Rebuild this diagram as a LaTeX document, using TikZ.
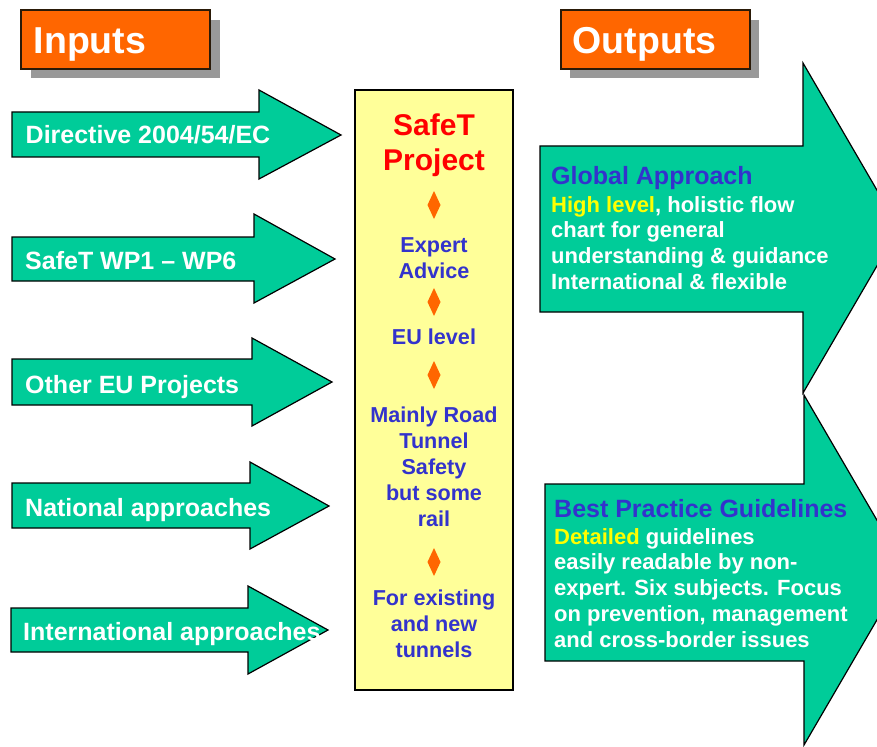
\documentclass[tikz,border=0pt]{standalone}
\usepackage{fontspec}
\setmainfont{Liberation Sans}
\definecolor{arrowgreen}{HTML}{00CC99}
\definecolor{hdrorange}{HTML}{FF6600}
\definecolor{boxyellow}{HTML}{FFFF99}
\definecolor{txtblue}{HTML}{3333CC}
\definecolor{shadowgray}{HTML}{999999}
\definecolor{hiyellow}{HTML}{FFFF00}
\definecolor{hdrline}{HTML}{2A1A08}
\begin{document}
\begin{tikzpicture}[x=1pt,y=-1pt,
  greenarrow/.style={fill=arrowgreen,draw=black,line width=1.2pt,line join=miter},
  hdrbox/.style={fill=hdrorange,draw=hdrline,line width=1.5pt},
  shadowbox/.style={fill=shadowgray},
  hdrtext/.style={inner sep=0pt,anchor=base west,text=white,font=\fontsize{37.5}{42}\selectfont\bfseries},
  inlabel/.style={inner sep=0pt,anchor=base west,text=white,font=\fontsize{25}{30}\selectfont\bfseries},
  titletext/.style={inner sep=0pt,anchor=base,text=red,font=\fontsize{30}{35}\selectfont\bfseries},
  midtext/.style={inner sep=0pt,anchor=north,align=center,text=txtblue,font=\fontsize{21.6}{26}\selectfont\bfseries},
  outhead/.style={inner sep=0pt,anchor=base west,text=txtblue,font=\fontsize{25}{30}\selectfont\bfseries},
  outbody/.style={inner sep=0pt,anchor=north west,align=left,text=white,font=\fontsize{22}{25.8}\selectfont\bfseries},
  diam/.style={fill=hdrorange}
]
\useasboundingbox (0,0) rectangle (877,746);
\clip (0,0) rectangle (877,746);

% headers
\fill[shadowbox] (31,20) rectangle (220,78);
\draw[hdrbox] (21,10) rectangle (210,69);
\node[hdrtext] (inputs) at (33.5,53.5) {Inputs};
\fill[shadowbox] (570,20) rectangle (759,78);
\draw[hdrbox] (561,10) rectangle (750,69);
\node[hdrtext] (outputs) at (572.5,53.5) {Outputs};

% input arrows
\draw[greenarrow] (12,112) -- (259,112) -- (259,90) -- (341,135) -- (259,179) -- (259,157) -- (12,157) -- cycle;
\draw[greenarrow] (12,237) -- (254,237) -- (254,214) -- (335,259) -- (254,303) -- (254,281) -- (12,281) -- cycle;
\draw[greenarrow] (12,359) -- (252,359) -- (252,338) -- (332,382) -- (252,426) -- (252,405) -- (12,405) -- cycle;
\draw[greenarrow] (12,483) -- (250,483) -- (250,462) -- (329,506) -- (250,549) -- (250,528) -- (12,528) -- cycle;
\draw[greenarrow] (11,608) -- (248,608) -- (248,586) -- (328,630) -- (248,674) -- (248,652) -- (11,652) -- cycle;

\node[inlabel] (in1) at (25.5,144) {Directive 2004/54/EC};
\node[inlabel] (in2) at (25,269) {SafeT WP1 – WP6};
\node[inlabel] (in3) at (25,393) {Other EU Projects};
\node[inlabel] (in4) at (25,516) {National approaches};
\node[inlabel] (in5) at (23,640) {International approaches};

% central box
\draw[fill=boxyellow,draw=black,line width=1.5pt] (355,90) rectangle (513,690);
\node[titletext] (safet) at (434,136) {SafeT};
\node[titletext] (project) at (434,171) {Project};
\fill[diam] (434,191) -- ++(6.5,14) -- ++(-6.5,14) -- ++(-6.5,-14) -- cycle;
\node[midtext] (expert) at (434,237) {Expert\\Advice};
\fill[diam] (434,288) -- ++(6.5,14) -- ++(-6.5,14) -- ++(-6.5,-14) -- cycle;
\node[midtext] (eulevel) at (434,329) {EU level};
\fill[diam] (434,361) -- ++(6.5,14) -- ++(-6.5,14) -- ++(-6.5,-14) -- cycle;
\node[midtext] (mainly) at (434,407) {Mainly Road\\Tunnel\\Safety\\but some\\rail};
\fill[diam] (434,548) -- ++(6.5,14) -- ++(-6.5,14) -- ++(-6.5,-14) -- cycle;
\node[midtext] (existing) at (434,590) {For existing\\and new\\tunnels};

% output arrows
\draw[greenarrow] (540,146) -- (803,146) -- (803,63) -- (899,228) -- (803,393) -- (803,312) -- (540,312) -- cycle;
\draw[greenarrow] (545,484) -- (804,484) -- (804,395) -- (906,570) -- (804,745) -- (804,661) -- (545,661) -- cycle;

\node[outhead] (global) at (551,185) {Global Approach};
\node[outbody] (globalbody) at (551,196) {\textcolor{hiyellow}{High level}, holistic flow\\chart for general\\understanding \& guidance\\International \& flexible};
\node[outhead] (best) at (554,517) {Best Practice Guidelines};
\node[outbody] (bestbody) at (554,528) {\textcolor{hiyellow}{Detailed} guidelines\\easily readable by non-\\expert. Six subjects. Focus\\on prevention, management\\and cross-border issues};
\end{tikzpicture}
\end{document}
